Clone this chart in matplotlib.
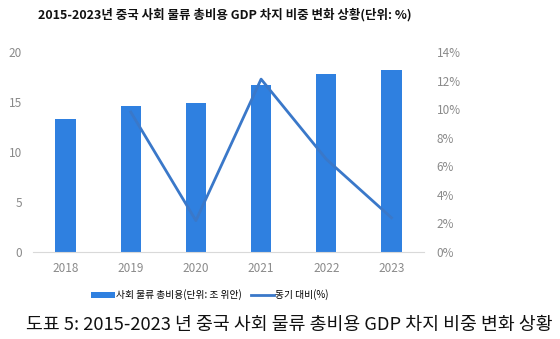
import matplotlib
matplotlib.use("Agg")
import matplotlib.pyplot as plt
import matplotlib.ticker as ticker
from matplotlib.patches import Patch
from matplotlib.lines import Line2D

plt.rcParams['font.family'] = ['Noto Sans CJK KR', 'DejaVu Sans']

# data
years = ['2018', '2019', '2020', '2021', '2022', '2023']
total_cost = [13.3, 14.6, 14.9, 16.7, 17.8, 18.2]      # 조 위안
yoy_years = ['2019', '2020', '2021', '2022', '2023']
yoy_growth = [9.8, 2.2, 12.1, 6.5, 2.4]                 # %

title = '2015-2023년 중국 사회 물류 총비용 GDP 차지 비중 변화 상황(단위: %)'
caption = '도표 5: 2015-2023 년 중국 사회 물류 총비용 GDP 차지 비중 변화 상황'
bar_label = '사회 물류 총비용(단위: 조 위안)'
line_label = '동기 대비(%)'

bar_color = '#2F80E0'
line_color = '#3A78C9'
tick_color = '#8a8a8a'

fig = plt.figure(figsize=(5.6, 3.39), dpi=100)
ax = fig.add_axes([33 / 560, 1 - 252 / 339, 391 / 560, 200 / 339])
x = list(range(len(years)))
ax.bar(x, total_cost, width=0.31, color=bar_color, zorder=2)
ax.set_xlim(-0.5, len(years) - 0.5)
ax.set_ylim(0, 20)
ax.set_yticks([0, 5, 10, 15, 20])
ax.set_xticks(x)
ax.set_xticklabels(years)

ax2 = ax.twinx()
xl = [years.index(y) for y in yoy_years]
ax2.plot(xl, yoy_growth, color=line_color, linewidth=2.0, zorder=3)
ax2.set_ylim(0, 14)
ax2.set_yticks(range(0, 15, 2))
ax2.yaxis.set_major_formatter(ticker.FuncFormatter(lambda v, p: f'{int(v)}%'))

for a in (ax, ax2):
    for s in a.spines.values():
        s.set_visible(False)
    a.tick_params(length=0, colors=tick_color, labelsize=8.5)
ax.spines['bottom'].set_visible(True)
ax.spines['bottom'].set_color('#d9d9d9')
ax.tick_params(axis='y', pad=8)
ax.tick_params(axis='x', pad=7)
ax2.tick_params(axis='y', pad=9)

fig.text(225 / 560, 1 - 15 / 339, title, ha='center', va='center',
         fontsize=9.0, fontweight='bold', color='#111111')

handles = [Patch(facecolor=bar_color, edgecolor='none'),
           Line2D([0], [0], color=line_color, linewidth=2)]
fig.legend(handles, [bar_label, line_label], loc='center',
           bbox_to_anchor=(210 / 560, 1 - 295 / 339), ncol=2, frameon=False,
           fontsize=7, handlelength=2.4, handletextpad=0.1, columnspacing=1.0)

fig.text(26 / 560, 1 - 325 / 339, caption, ha='left', va='center',
         fontsize=13.2, color='#111111')

fig.savefig('out.png', dpi=100, facecolor='white')
